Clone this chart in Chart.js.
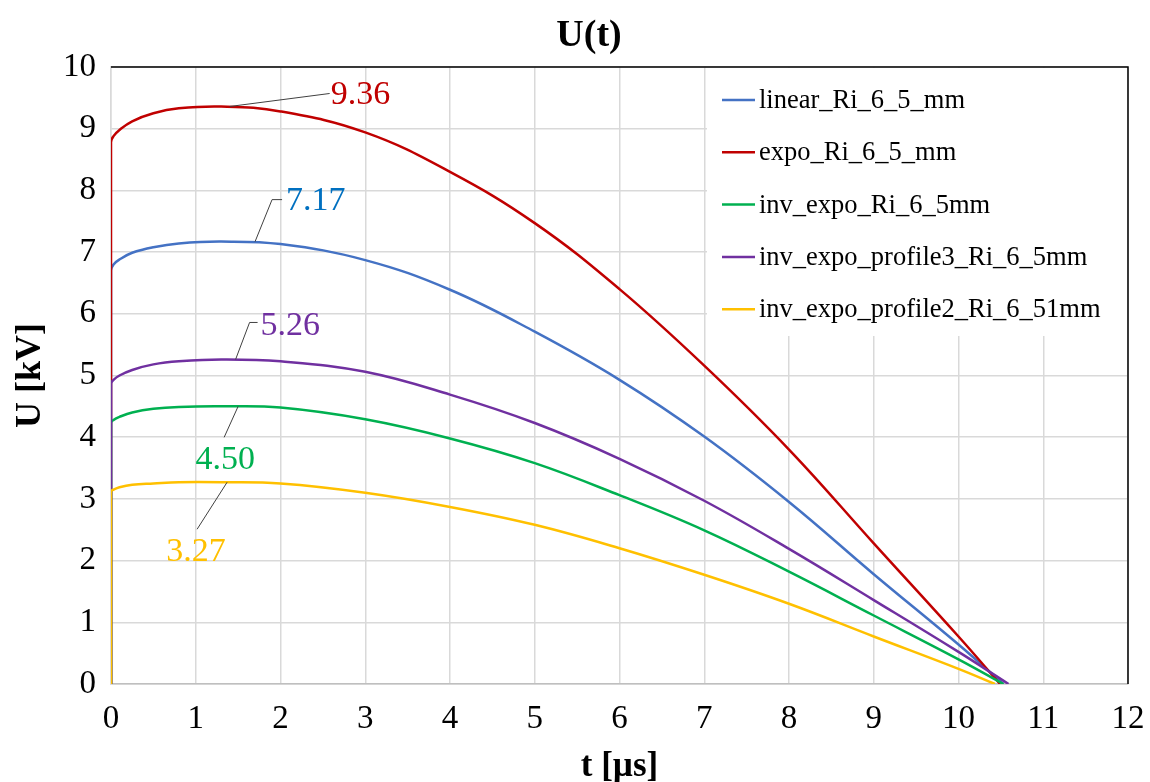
<!DOCTYPE html>
<html>
<head>
<meta charset="utf-8">
<title>U(t)</title>
<script src="https://cdn.jsdelivr.net/npm/chart.js@4.4.1/dist/chart.umd.min.js"></script>
<style>
  html, body { margin: 0; padding: 0; background: #fff; }
  #wrap { width: 1150px; height: 782px; }
</style>
</head>
<body>
<div id="wrap"><canvas id="uChart" width="1150" height="782"></canvas></div>
<script>
'use strict';

// time samples [µs]; the first two are the vertical step at t = 0
const tSamples = [0, 0, 0.03, 0.1, 0.25, 0.5, 0.8, 1.3, 2, 3, 4, 5, 6, 7, 8, 9, 10];

// voltage [kV] at each sample
const uLinear   = [0, 6.70, 6.80, 6.88, 6.99, 7.08, 7.14, 7.17, 7.13, 6.87, 6.39, 5.71, 4.93, 4.01, 2.95, 1.78, 0.64];
const uExpo     = [0, 8.78, 8.88, 8.98, 9.12, 9.25, 9.33, 9.36, 9.28, 8.94, 8.30, 7.47, 6.40, 5.16, 3.80, 2.28, 0.77];
const uInvExpo  = [0, 4.23, 4.28, 4.33, 4.40, 4.46, 4.49, 4.50, 4.48, 4.29, 3.98, 3.58, 3.06, 2.49, 1.82, 1.11, 0.40];
const uProfile3 = [0, 4.87, 4.93, 5.00, 5.09, 5.18, 5.23, 5.26, 5.23, 5.06, 4.69, 4.23, 3.65, 2.97, 2.19, 1.36, 0.52];
const uProfile2 = [0, 3.12, 3.15, 3.19, 3.23, 3.25, 3.27, 3.27, 3.25, 3.10, 2.87, 2.58, 2.20, 1.77, 1.30, 0.77, 0.245];

// time where each curve returns to 0 kV
const tZero = [10.53, 10.49, 10.53, 10.59, 10.43];

const seriesNames = [
  'linear_Ri_6_5_mm',
  'expo_Ri_6_5_mm',
  'inv_expo_Ri_6_5mm',
  'inv_expo_profile3_Ri_6_5mm',
  'inv_expo_profile2_Ri_6_51mm',
];
const seriesValues = [uLinear, uExpo, uInvExpo, uProfile3, uProfile2];
const seriesColors = ['#4472C4', '#C00000', '#00B050', '#7030A0', '#FFC000'];

// peak callouts: series index, time of the leader anchor, value shown
const peakSeries = [1, 0, 3, 2, 4];
const peakT      = [1.4, 1.7, 1.47, 1.5, 1.37];
const peakValue  = [9.36, 7.17, 5.26, 4.50, 3.27];

const SERIF = "'Liberation Serif', 'Times New Roman', serif";

function toPoints(values, endT) {
  const pts = values.map((u, i) => ({ x: tSamples[i], y: u }));
  pts.push({ x: endT, y: 0 });
  return pts;
}

// leader line geometry for each callout (px relative to the anchor on the curve)
const calloutStyle = [
  { color: '#C00000', path: [[100, -13]], text: [101, -11], align: 'left' },
  { color: '#0070C0', path: [[17, -42], [27, -42]], text: [31, -41], align: 'left' },
  { color: '#7030A0', path: [[14, -37], [22, -37]], text: [25, -33], align: 'left' },
  { color: '#00B050', path: [[-14, 31]], text: [-13, 54], align: 'center' },
  { color: '#FFC000', path: [[-30, 47]], text: [-31, 70], align: 'center' },
];

// title over the plot
const titlePlugin = {
  id: 'plotTitle',
  afterDraw(chart) {
    const { ctx } = chart;
    ctx.save();
    ctx.fillStyle = '#000';
    ctx.font = 'bold 38px ' + SERIF;
    ctx.textAlign = 'center';
    ctx.textBaseline = 'middle';
    ctx.fillText('U(t)', 589, 36);
    ctx.restore();
  }
};

// white legend box inside the plot, drawn over the grid
const legendBoxPlugin = {
  id: 'legendBox',
  beforeDatasetsDraw(chart) {
    const { ctx, chartArea } = chart;
    const boxLeft = 707, boxBottom = 335;
    ctx.save();
    ctx.fillStyle = '#fff';
    ctx.fillRect(boxLeft, chartArea.top + 1, chartArea.right - boxLeft - 1, boxBottom - chartArea.top);
    ctx.font = '26.5px ' + SERIF;
    ctx.textBaseline = 'middle';
    ctx.textAlign = 'left';
    seriesNames.forEach((name, i) => {
      const y = 100 + i * 52.3;
      ctx.strokeStyle = seriesColors[i];
      ctx.lineWidth = 2.5;
      ctx.beginPath();
      ctx.moveTo(722, y);
      ctx.lineTo(755, y);
      ctx.stroke();
      ctx.fillStyle = '#000';
      ctx.fillText(name, 759, y + 1);
    });
    ctx.restore();
  }
};

// black frame on top and right, peak callouts
const frameAndCalloutPlugin = {
  id: 'frameCallout',
  afterDatasetsDraw(chart) {
    const { ctx, chartArea, scales } = chart;
    ctx.save();
    ctx.strokeStyle = '#000';
    ctx.lineWidth = 1.5;
    ctx.beginPath();
    ctx.moveTo(chartArea.left, chartArea.top);
    ctx.lineTo(chartArea.right, chartArea.top);
    ctx.lineTo(chartArea.right, chartArea.bottom);
    ctx.stroke();

    peakSeries.forEach((s, i) => {
      const st = calloutStyle[i];
      const ax = scales.x.getPixelForValue(peakT[i]);
      const ay = scales.y.getPixelForValue(peakValue[i]);
      ctx.strokeStyle = '#404040';
      ctx.lineWidth = 1;
      ctx.beginPath();
      ctx.moveTo(ax, ay);
      st.path.forEach(p => ctx.lineTo(ax + p[0], ay + p[1]));
      ctx.stroke();
      ctx.fillStyle = st.color;
      ctx.font = '34px ' + SERIF;
      ctx.textAlign = st.align;
      ctx.textBaseline = 'middle';
      ctx.fillText(peakValue[i].toFixed(2), ax + st.text[0], ay + st.text[1]);
    });
    ctx.restore();
  }
};

const datasets = seriesNames.map((name, i) => ({
  label: name,
  data: toPoints(seriesValues[i], tZero[i]),
  borderColor: seriesColors[i],
  backgroundColor: 'transparent',
  borderWidth: 2.5,
  pointRadius: 0,
  tension: 0.4,
  order: 5 - i,
}));

new Chart(document.getElementById('uChart').getContext('2d'), {
  type: 'line',
  data: { datasets },
  plugins: [legendBoxPlugin, frameAndCalloutPlugin, titlePlugin],
  options: {
    responsive: false,
    animation: false,
    layout: { padding: { top: 67, right: 22 } },
    plugins: {
      legend: { display: false },
      tooltip: { enabled: false },
      title: { display: false },
    },
    scales: {
      x: {
        type: 'linear',
        min: 0,
        max: 12,
        afterFit(scale) {
          scale.height = 98;
          scale.paddingLeft = 0;
          scale.paddingRight = 0;
        },
        ticks: { stepSize: 1, color: '#000', padding: 16, font: { family: SERIF, size: 33 } },
        grid: { color: '#d9d9d9', lineWidth: 1.5, drawTicks: false },
        border: { color: '#bfbfbf', width: 1.5 },
        title: {
          display: true,
          text: 't [µs]',
          color: '#000',
          font: { family: SERIF, size: 35, weight: 'bold' },
          padding: { bottom: -6 },
        },
      },
      y: {
        min: 0,
        max: 10,
        afterFit(scale) { scale.width = 111; },
        ticks: { stepSize: 1, color: '#000', padding: 15, font: { family: SERIF, size: 33 } },
        grid: { color: '#d9d9d9', lineWidth: 1.5, drawTicks: false },
        border: { color: '#d9d9d9', width: 1.5 },
        title: {
          display: true,
          text: 'U [kV]',
          color: '#000',
          font: { family: SERIF, size: 36, weight: 'bold' },
          padding: { top: 9 },
        },
      },
    },
  },
});
</script>
</body>
</html>
